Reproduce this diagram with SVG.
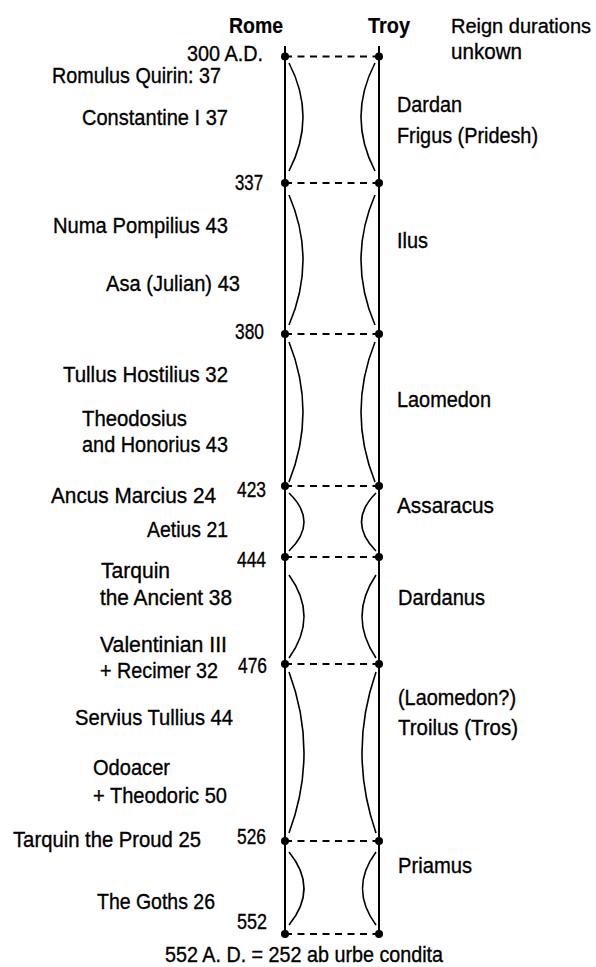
<svg xmlns="http://www.w3.org/2000/svg" width="596" height="967" viewBox="0 0 596 967">
<style>
text{font-family:"Liberation Sans",Arial,sans-serif;font-size:22px;fill:#000;stroke:#000;stroke-width:0.35}
.b{font-weight:bold;stroke-width:0.2}
.axis{stroke:#000;stroke-width:2;fill:none}
.dash{stroke:#000;stroke-width:1.8;stroke-dasharray:7 5.5;fill:none}
.arc{stroke:#000;stroke-width:1.6;fill:none}
.dot{fill:#000}
</style>
<rect width="596" height="967" fill="#fff"/>
<g id="headers">
<text class="b" x="229" y="33" textLength="54" lengthAdjust="spacingAndGlyphs">Rome</text>
<text class="b" x="368" y="33" textLength="42" lengthAdjust="spacingAndGlyphs">Troy</text>
<text x="451" y="33" font-size="20.5" textLength="140" lengthAdjust="spacingAndGlyphs" style="font-size:20.5px">Reign durations</text>
<text x="451" y="59" textLength="71" lengthAdjust="spacingAndGlyphs">unkown</text>
</g>
<g id="rome-axis"><line class="axis" x1="285" y1="46" x2="285" y2="934"/></g>
<g id="troy-axis"><line class="axis" x1="379" y1="46" x2="379" y2="934"/></g>
<g id="connectors">
<line class="dash" x1="285" y1="56.5" x2="379" y2="56.5"/>
<line class="dash" x1="285" y1="183" x2="379" y2="183"/>
<line class="dash" x1="285" y1="334" x2="379" y2="334"/>
<line class="dash" x1="285" y1="486" x2="379" y2="486"/>
<line class="dash" x1="285" y1="557" x2="379" y2="557"/>
<line class="dash" x1="285" y1="664" x2="379" y2="664"/>
<line class="dash" x1="285" y1="841" x2="379" y2="841"/>
<line class="dash" x1="285" y1="934" x2="379" y2="934"/>
<path class="arc" d="M289 63 Q317 117 289 171"/>
<path class="arc" d="M375 63 Q347 117 375 171"/>
<path class="arc" d="M289 195 Q317 260 289 325"/>
<path class="arc" d="M375 195 Q347 260 375 325"/>
<path class="arc" d="M289 342 Q317 412 289 482"/>
<path class="arc" d="M375 342 Q347 412 375 482"/>
<path class="arc" d="M289 493 Q319 522 289 551"/>
<path class="arc" d="M376 493 Q347 522 376 551"/>
<path class="arc" d="M289 575 Q319 616.5 289 658"/>
<path class="arc" d="M376 575 Q348 616.5 376 658"/>
<path class="arc" d="M289 672 Q319 752.5 289 833"/>
<path class="arc" d="M376 672 Q348 752.5 376 833"/>
<path class="arc" d="M289 852 Q319 888.5 289 925"/>
<path class="arc" d="M376 852 Q349 888.5 376 925"/>
</g>
<g id="y300"><circle class="dot" cx="285" cy="56.5" r="4"/><circle class="dot" cx="379" cy="56.5" r="4"/><text x="187" y="61" textLength="76" lengthAdjust="spacingAndGlyphs">300 A.D.</text></g>
<g id="y337"><circle class="dot" cx="285" cy="183" r="4"/><circle class="dot" cx="379" cy="183" r="4"/><text x="235" y="190" textLength="28" lengthAdjust="spacingAndGlyphs">337</text></g>
<g id="y380"><circle class="dot" cx="285" cy="334" r="4"/><circle class="dot" cx="379" cy="334" r="4"/><text x="235" y="339" textLength="29" lengthAdjust="spacingAndGlyphs">380</text></g>
<g id="y423"><circle class="dot" cx="285" cy="486" r="4"/><circle class="dot" cx="379" cy="486" r="4"/><text x="237" y="497" textLength="29" lengthAdjust="spacingAndGlyphs">423</text></g>
<g id="y444"><circle class="dot" cx="285" cy="557" r="4"/><circle class="dot" cx="379" cy="557" r="4"/><text x="237" y="567" textLength="29" lengthAdjust="spacingAndGlyphs">444</text></g>
<g id="y476"><circle class="dot" cx="285" cy="664" r="4"/><circle class="dot" cx="379" cy="664" r="4"/><text x="238" y="673" textLength="29" lengthAdjust="spacingAndGlyphs">476</text></g>
<g id="y526"><circle class="dot" cx="285" cy="841" r="4"/><circle class="dot" cx="379" cy="841" r="4"/><text x="237" y="844" textLength="29" lengthAdjust="spacingAndGlyphs">526</text></g>
<g id="y552"><circle class="dot" cx="285" cy="934" r="4"/><circle class="dot" cx="379" cy="934" r="4"/><text x="237" y="929" textLength="30" lengthAdjust="spacingAndGlyphs">552</text></g>
<g id="rome-rulers">
<text x="52" y="83" textLength="169" lengthAdjust="spacingAndGlyphs">Romulus Quirin: 37</text>
<text x="82" y="125" textLength="146" lengthAdjust="spacingAndGlyphs">Constantine I 37</text>
<text x="53" y="233" textLength="175" lengthAdjust="spacingAndGlyphs">Numa Pompilius 43</text>
<text x="106" y="291" textLength="134" lengthAdjust="spacingAndGlyphs">Asa (Julian) 43</text>
<text x="63" y="382" textLength="165" lengthAdjust="spacingAndGlyphs">Tullus Hostilius 32</text>
<text x="82" y="426" textLength="105" lengthAdjust="spacingAndGlyphs">Theodosius</text>
<text x="82" y="452" textLength="146" lengthAdjust="spacingAndGlyphs">and Honorius 43</text>
<text x="51" y="503" textLength="165" lengthAdjust="spacingAndGlyphs">Ancus Marcius 24</text>
<text x="147" y="537" textLength="81" lengthAdjust="spacingAndGlyphs">Aetius 21</text>
<text x="101" y="578" textLength="69" lengthAdjust="spacingAndGlyphs">Tarquin</text>
<text x="100" y="605" textLength="132" lengthAdjust="spacingAndGlyphs">the Ancient 38</text>
<text x="100" y="652" textLength="127" lengthAdjust="spacingAndGlyphs">Valentinian III</text>
<text x="100" y="678" textLength="118" lengthAdjust="spacingAndGlyphs">+ Recimer 32</text>
<text x="75" y="725" textLength="158" lengthAdjust="spacingAndGlyphs">Servius Tullius 44</text>
<text x="93" y="775" textLength="77" lengthAdjust="spacingAndGlyphs">Odoacer</text>
<text x="93" y="803" textLength="134" lengthAdjust="spacingAndGlyphs">+ Theodoric 50</text>
<text x="13" y="847" textLength="188" lengthAdjust="spacingAndGlyphs">Tarquin the Proud 25</text>
<text x="97" y="909" textLength="118" lengthAdjust="spacingAndGlyphs">The Goths 26</text>
</g>
<g id="troy-rulers">
<text x="397" y="112" textLength="65" lengthAdjust="spacingAndGlyphs">Dardan</text>
<text x="397" y="143" textLength="141" lengthAdjust="spacingAndGlyphs">Frigus (Pridesh)</text>
<text x="397" y="248" textLength="31" lengthAdjust="spacingAndGlyphs">Ilus</text>
<text x="397" y="407" textLength="94" lengthAdjust="spacingAndGlyphs">Laomedon</text>
<text x="397" y="513" textLength="97" lengthAdjust="spacingAndGlyphs">Assaracus</text>
<text x="398" y="605" textLength="87" lengthAdjust="spacingAndGlyphs">Dardanus</text>
<text x="398" y="705" textLength="118" lengthAdjust="spacingAndGlyphs">(Laomedon?)</text>
<text x="398" y="735" textLength="120" lengthAdjust="spacingAndGlyphs">Troilus (Tros)</text>
<text x="398" y="873" textLength="74" lengthAdjust="spacingAndGlyphs">Priamus</text>
</g>
<g id="footer">
<text x="165" y="962" textLength="278" lengthAdjust="spacingAndGlyphs">552 A. D. = 252 ab urbe condita</text>
</g>
</svg>
